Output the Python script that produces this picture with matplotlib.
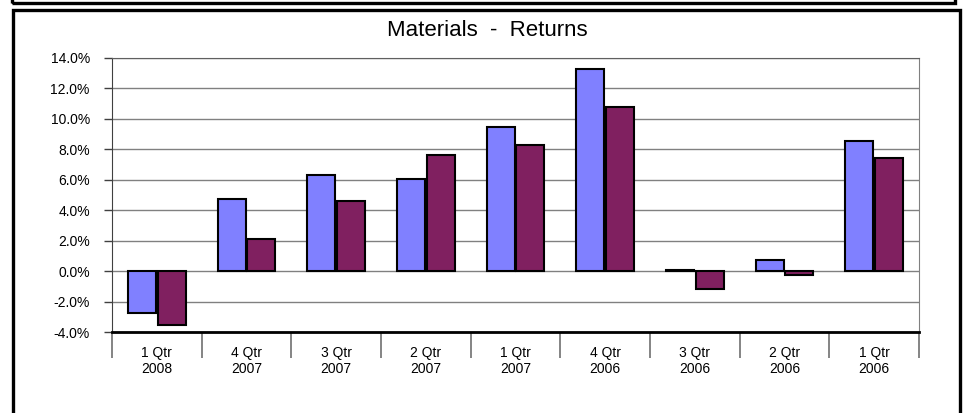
import numpy as np
import matplotlib
matplotlib.use('Agg')
import matplotlib.pyplot as plt
from matplotlib.patches import Rectangle

quarters = ['1 Qtr\n2008', '4 Qtr\n2007', '3 Qtr\n2007', '2 Qtr\n2007', '1 Qtr\n2007',
            '4 Qtr\n2006', '3 Qtr\n2006', '2 Qtr\n2006', '1 Qtr\n2006']
series_a = [-2.72, 4.74, 6.30, 6.05, 9.45, 13.27, 0.05, 0.70, 8.55]
series_b = [-3.55, 2.10, 4.60, 7.65, 8.30, 10.78, -1.17, -0.26, 7.40]
yticks = [-4, -2, 0, 2, 4, 6, 8, 10, 12, 14]

plt.rcParams['font.family'] = ['Liberation Sans', 'DejaVu Sans']

fig = plt.figure(figsize=(9.65, 4.13), dpi=100)
W, H = 965.0, 413.0

# outer frames (pixel coords -> figure fraction)
def box(x0, y0, x1, y1):
    fig.patches.append(Rectangle((x0 / W, 1 - y1 / H), (x1 - x0) / W, (y1 - y0) / H,
                                 transform=fig.transFigure, fill=False,
                                 edgecolor='black', linewidth=2.4))
box(12, -20, 955, 2.5)
box(12.5, 10, 959.5, 430)

ax = fig.add_axes([112 / W, 1 - 332 / H, (919 - 112) / W, (332 - 58) / H])

x = np.arange(len(quarters))
w = 0.31
ax.bar(x - w / 2 - 0.01, series_a, w, color='#8080FF', edgecolor='black', linewidth=1.5, zorder=3)
ax.bar(x + w / 2 + 0.01, series_b, w, color='#802060', edgecolor='black', linewidth=1.5, zorder=3)

ax.set_xlim(-0.5, len(quarters) - 0.5)
ax.set_ylim(-4, 14)
ax.set_yticks(yticks)
ax.set_yticklabels(['%.1f%%' % v for v in yticks], fontsize=10)
ax.yaxis.grid(True, color='#808080', linewidth=1, zorder=0)
ax.tick_params(axis='y', length=6, width=1, color='#404040', pad=10)

# category boundaries as long ticks, labels on minor ticks
ax.set_xticks(np.arange(len(quarters) + 1) - 0.5)
ax.set_xticklabels([])
ax.tick_params(axis='x', which='major', length=19, width=1.2, color='#707070')
ax.set_xticks(x, minor=True)
ax.set_xticklabels(quarters, minor=True, fontsize=10, linespacing=1.15)
ax.tick_params(axis='x', which='minor', length=0, pad=10)

ax.spines['top'].set_color('#606060')
ax.spines['right'].set_color('#808080')
ax.spines['left'].set_color('#404040')
ax.spines['bottom'].set_linewidth(2)
ax.spines['bottom'].set_zorder(4)

fig.text(487 / W, 1 - 30 / H, 'Materials  -  Returns', ha='center', va='center', fontsize=16)

fig.savefig('out.png', dpi=100)
